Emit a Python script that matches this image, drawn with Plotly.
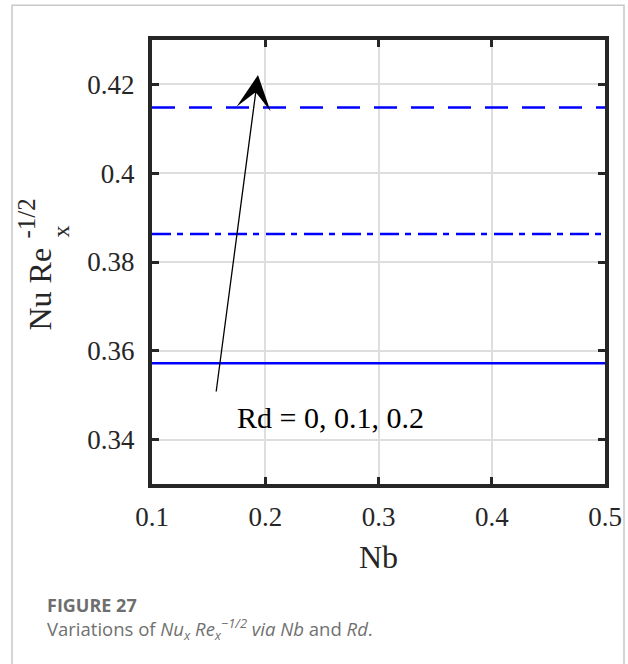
import plotly.graph_objects as go

# ---- data ----
nb = [0.1, 0.5]
rd_labels = ["Rd = 0", "Rd = 0.1", "Rd = 0.2"]
nu_rd0 = [0.3572, 0.3572]
nu_rd01 = [0.3863, 0.3863]
nu_rd02 = [0.4148, 0.4148]
x_ticks = [0.1, 0.2, 0.3, 0.4, 0.5]
x_ticklabels = ["0.1", "0.2", "0.3", "0.4", "0.5"]
y_ticks = [0.34, 0.36, 0.38, 0.40, 0.42]
y_ticklabels = ["0.34", "0.36", "0.38", "0.4", "0.42"]

W, H = 628, 664
ML, MR, MT, MB = 152, 23, 40, 180
PW, PH = W - ML - MR, H - MT - MB

def px(xp):
    return (xp - ML) / PW

def py(yp):
    return (H - MB - yp) / PH

BLUE = "#0000ff"
DARK = "#262626"
SERIF = "Liberation Serif"

fig = go.Figure()
fig.add_trace(go.Scatter(x=nb, y=nu_rd0, mode="lines", name=rd_labels[0],
                         line=dict(color=BLUE, width=2.6, dash="solid")))
fig.add_trace(go.Scatter(x=nb, y=nu_rd01, mode="lines", name=rd_labels[1],
                         line=dict(color=BLUE, width=2.6, dash="19px,6px,6px,7px")))
fig.add_trace(go.Scatter(x=nb, y=nu_rd02, mode="lines", name=rd_labels[2],
                         line=dict(color=BLUE, width=2.6, dash="23px,14px")))

axis_common = dict(
    showline=True, linecolor=DARK, linewidth=4, mirror="ticks",
    ticks="inside", ticklen=7, tickwidth=3, tickcolor=DARK,
    showgrid=True, gridcolor="#dedede", gridwidth=2, zeroline=False,
    tickfont=dict(family=SERIF, size=27, color=DARK),
)

fig.update_xaxes(range=[0.1, 0.5], tickmode="array", tickvals=x_ticks,
                 ticktext=x_ticklabels, ticklabelstandoff=6, **axis_common)
fig.update_yaxes(range=[0.33, 0.43], tickmode="array", tickvals=y_ticks,
                 ticktext=y_ticklabels, ticklabelstandoff=8, **axis_common)

def pa(x, y, text, size, family=SERIF, color=DARK, angle=0, xanchor="center"):
    return dict(x=px(x), y=py(y), xref="paper", yref="paper", text=text,
                textangle=angle, showarrow=False, xanchor=xanchor,
                yanchor="middle", font=dict(family=family, size=size, color=color))

annotations = [
    # arrow
    dict(x=0.1936, y=0.4221, ax=0.1565, ay=0.3505, xref="x", yref="y",
         axref="x", ayref="y", text="", showarrow=True, arrowhead=3,
         arrowsize=4.4, arrowwidth=1.3, arrowcolor="black"),
    dict(x=0.2572, y=0.3449, xref="x", yref="y", text="Rd = 0, 0.1, 0.2",
         showarrow=False, xanchor="center", yanchor="middle",
         font=dict(family=SERIF, size=30, color="black")),
    # x title
    pa(378, 557, "Nb", 32),
    # y title pieces
    pa(39, 289.5, "Nu Re", 32, angle=-90),
    pa(26, 218.5, "-1/2", 25, angle=-90),
    pa(60.5, 232, "x", 24, angle=-90),
    # caption
    pa(45, 605, "<b>FIGURE 27</b>", 18, family="Open Sans", color="#6e6e6e",
       xanchor="left"),
    pa(45, 629,
       "Variations of <i>Nu<sub>x</sub> Re<sub>x</sub><sup>−1/2</sup> via Nb</i> and <i>Rd</i>.",
       18.5, family="Open Sans", color="#707070", xanchor="left"),
]

shapes = [
    dict(type="rect", xref="paper", yref="paper",
         x0=px(12), x1=px(624), y0=py(700), y1=py(5.3),
         line=dict(color="#c8c8c8", width=1.5), fillcolor="rgba(0,0,0,0)",
         layer="below"),
]

fig.update_layout(
    width=W, height=H,
    margin=dict(l=ML, r=MR, t=MT, b=MB, autoexpand=False),
    paper_bgcolor="white", plot_bgcolor="white",
    showlegend=False,
    annotations=annotations, shapes=shapes,
)

fig.write_html("out.html", config={"displayModeBar": False},
               post_script="document.body.style.margin='0px';document.body.style.overflow='hidden';")
